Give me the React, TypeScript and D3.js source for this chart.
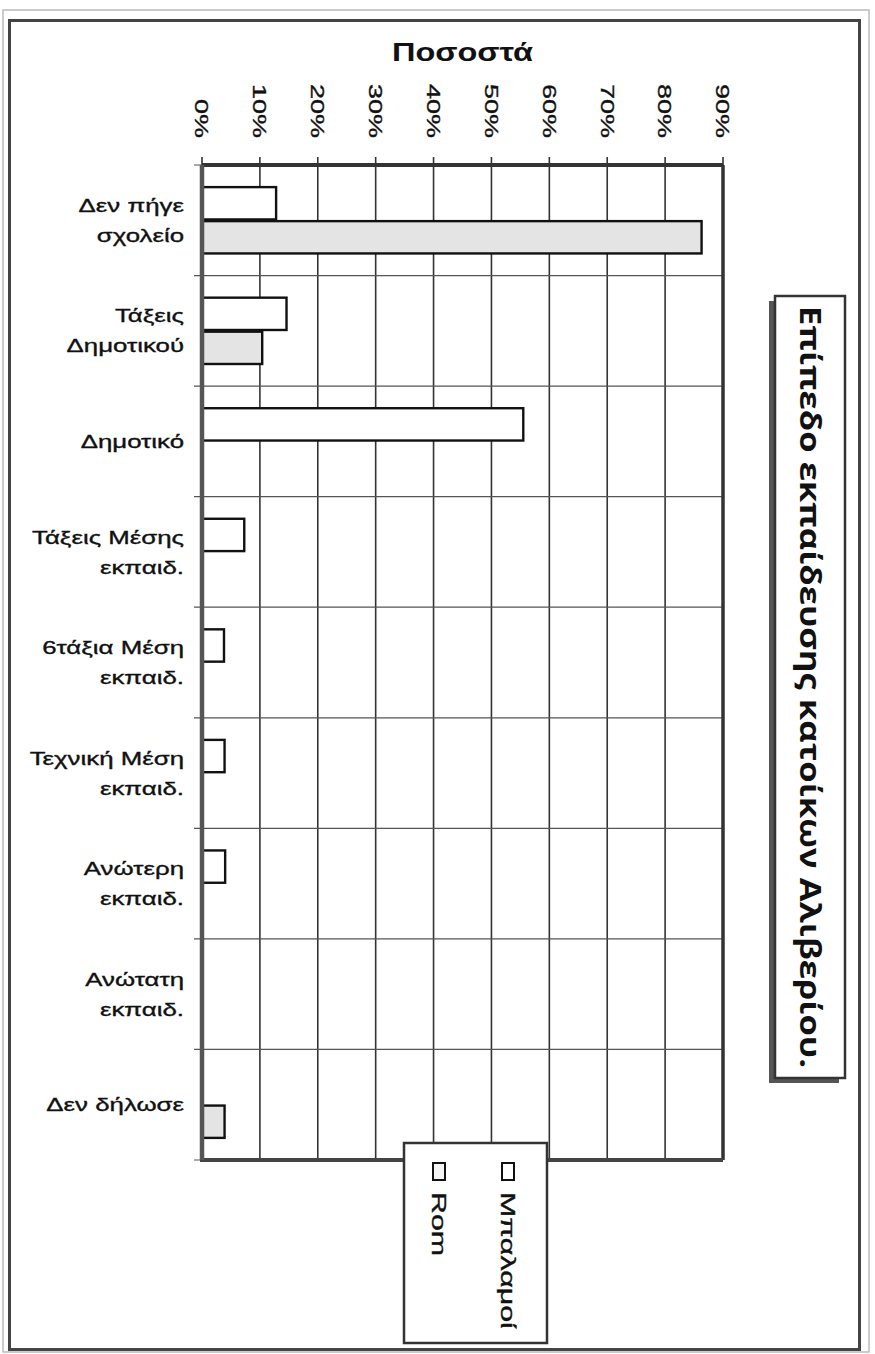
import React from "react";
import * as d3 from "d3";

const categories: string[][] = [
  ["Δεν πήγε", "σχολείο"],
  ["Τάξεις", "Δημοτικού"],
  ["Δημοτικό"],
  ["Τάξεις Μέσης", "εκπαιδ."],
  ["6τάξια Μέση", "εκπαιδ."],
  ["Τεχνική Μέση", "εκπαιδ."],
  ["Ανώτερη", "εκπαιδ."],
  ["Ανώτατη", "εκπαιδ."],
  ["Δεν δήλωσε"],
];
const seriesNames = ["Μπαλαμοί", "Rom"];
const balamoi = [12.8, 14.6, 55.5, 7.3, 3.8, 3.9, 4.0, 0, 0];
const rom = [86.3, 10.4, 0, 0, 0, 0, 0, 0, 3.9];
const tickValues = [0, 10, 20, 30, 40, 50, 60, 70, 80, 90];
const axisTitle = "Ποσοστά";
const chartTitle = "Επίπεδο εκπαίδευσης κατοίκων Αλιβερίου.";

const seriesValues = [balamoi, rom];
const seriesFill = ["#ffffff", "#e4e4e4"];

export default function App() {
  const W = 875, H = 1354;
  const left = 202, right = 723, top = 165, bottom = 1160;
  const x = d3.scaleLinear().domain([0, 90]).range([left, right]);
  const y = d3.scaleBand<number>().domain(categories.map((_, i) => i)).range([top, bottom]);
  const bw = y.bandwidth();
  const sub = d3.scaleBand<number>().domain([0, 1]).range([bw * 0.2, bw * 0.8]).paddingInner(0.05);
  const font = "'Liberation Sans', Arial, sans-serif";
  const stretch = 1.42;
  const ink = { stroke: "#111", strokeWidth: 0.35 };

  return (
    <svg width={W} height={H} style={{ position: "absolute", left: 0, top: 0, background: "#fff" }}>
      {/* page frames */}
      <rect x={3} y={10} width={866} height={1342} fill="none" stroke="#bbb" strokeWidth={1.5} />
      <rect x={9.5} y={20.5} width={850} height={1329} fill="#fff" stroke="#444" strokeWidth={3} />

      {/* axis title */}
      <text transform={`translate(${(left + right) / 2},61) scale(1.3,1)`} textAnchor="middle" fontFamily={font} fontWeight="bold" fontSize={25} fill="#111">
        {axisTitle}
      </text>

      {/* tick labels */}
      {tickValues.map((t) => (
        <text key={t} transform={`translate(${x(t)},138) rotate(90) scale(${stretch},1)`} textAnchor="end" dy="0.35em"
          fontFamily={font} fontSize={19} fill="#111" {...ink}>
          {t + "%"}
        </text>
      ))}

      {/* vertical gridlines */}
      {tickValues.map((t) => (
        <line key={"v" + t} x1={x(t)} x2={x(t)} y1={157} y2={bottom} stroke="#333" strokeWidth={1.6} />
      ))}
      {/* horizontal gridlines */}
      {d3.range(categories.length + 1).map((i) => {
        const yy = i < categories.length ? (y(i) as number) : bottom;
        return <line key={"h" + i} x1={194} x2={right} y1={yy} y2={yy} stroke="#555" strokeWidth={1.2} />;
      })}

      {/* bars */}
      {seriesValues.map((vals, s) =>
        vals.map((v, i) =>
          v > 0 ? (
            <rect key={s + "-" + i} x={x(0)} y={(y(i) as number) + (sub(s) as number)} width={x(v) - x(0)} height={sub.bandwidth()}
              fill={seriesFill[s]} stroke="#111" strokeWidth={2.4} />
          ) : null
        )
      )}

      {/* plot frame */}
      <line x1={left} x2={right} y1={top} y2={top} stroke="#333" strokeWidth={4} />
      <line x1={right} x2={right} y1={top} y2={bottom} stroke="#333" strokeWidth={3.5} />
      <line x1={left - 2} x2={right} y1={bottom} y2={bottom} stroke="#444" strokeWidth={4} />
      <line x1={left} x2={left} y1={top} y2={bottom} stroke="#555" strokeWidth={4.5} />

      {/* category labels */}
      {categories.map((lines, i) => {
        const cy = (y(i) as number) + bw / 2;
        const lh = 30;
        return (
          <text key={"c" + i} transform={`translate(184,${cy}) scale(1.36,1)`} textAnchor="end" fontFamily={font} fontSize={19} fill="#111" {...ink}>
            {lines.map((ln, j) => (
              <tspan key={j} x={0} y={(j - (lines.length - 1) / 2) * lh} dy="0.35em">
                {ln}
              </tspan>
            ))}
          </text>
        );
      })}

      {/* chart title box */}
      <rect x={769} y={301} width={70} height={782} fill="#555" />
      <rect x={775} y={296} width={70} height={782} fill="#fff" stroke="#333" strokeWidth={2.5} />
      <text transform={`translate(810,${(296 + 1078) / 2}) rotate(90)`} textAnchor="middle" dy="0.35em"
        fontFamily="'Open Sans', sans-serif" fontWeight="bold" fontSize={28} fill="#111" textLength={762} lengthAdjust="spacingAndGlyphs">
        {chartTitle}
      </text>

      {/* legend */}
      <rect x={404} y={1143} width={143} height={200} fill="#fff" stroke="#333" strokeWidth={2.5} />
      {seriesNames.map((name, s) => {
        const cx = s === 0 ? 508 : 439;
        return (
          <g key={"l" + s}>
            <rect x={cx - 6} y={1163} width={12} height={17} fill={seriesFill[s] === "#ffffff" ? "#fff" : "#f4f4f4"} stroke="#111" strokeWidth={2} />
            <text transform={`translate(${cx},1192) rotate(90) scale(1.52,1)`} dy="0.35em" fontFamily={font} fontSize={20} fill="#111" {...ink}>
              {name}
            </text>
          </g>
        );
      })}
    </svg>
  );
}
